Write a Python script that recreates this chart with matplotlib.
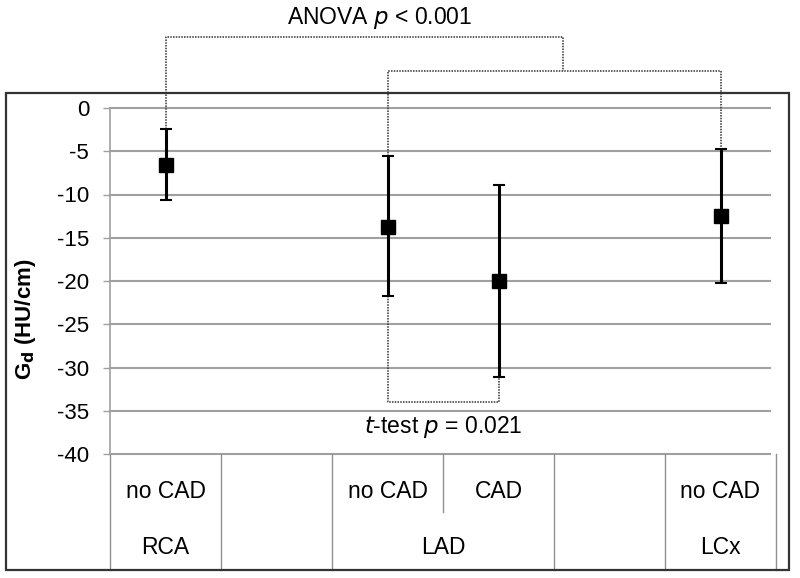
import matplotlib
matplotlib.use("Agg")
import matplotlib.pyplot as plt
from matplotlib.patches import Rectangle

plt.rcParams['font.family'] = ['Liberation Sans', 'DejaVu Sans']

# Data
slots = [0, 2, 3, 5]                 # slot index of each group (6 slots)
sub_labels = ["no CAD", "", "no CAD", "CAD", "", "no CAD"]
vessels = ["RCA", "LAD", "LCx"]
vessel_pos = [0.5, 3.0, 5.5]
means = [-6.6, -13.8, -20.0, -12.5]
err_top = [-2.4, -5.6, -8.9, -4.7]
err_bot = [-10.6, -21.7, -31.1, -20.2]
yticks = [0, -5, -10, -15, -20, -25, -30, -35, -40]

fig = plt.figure(figsize=(8.0, 5.78), dpi=100)
ax = fig.add_axes([110/800, 1-454/578, 666/800, 346/578])
ax.set_xlim(0, 6)
ax.set_ylim(-40, 0)

grid_c = '#a0a0a0'
for yv in yticks:
    ax.plot([0, 5.95], [yv, yv], color=grid_c, lw=1.5, zorder=1, clip_on=False)

for s in ['top', 'right', 'bottom']:
    ax.spines[s].set_visible(False)
ax.spines['left'].set_color(grid_c)
ax.spines['left'].set_linewidth(1.2)
ax.set_xticks([])
ax.set_yticks(yticks)
ax.set_yticklabels([str(v) for v in yticks], fontsize=16)
ax.tick_params(axis='y', length=5, width=1.0, color=grid_c, pad=10)

xs = [s + 0.5 for s in slots]
lower = [m - b for m, b in zip(means, err_bot)]
upper = [t - m for m, t in zip(means, err_top)]
ax.errorbar(xs, means, yerr=[lower, upper], fmt='s', color='black',
            markersize=9.5, elinewidth=2.2, capsize=4, capthick=1.5, zorder=5)

# Table below axis
y_tab_bot = -40 - (570-454)/8.65
y_div = -40 - (512-454)/8.65
tab_c = '#909090'
for i in range(7):
    yb = y_div if i == 3 else y_tab_bot
    ax.plot([i, i], [-40, yb], color=tab_c, lw=1.0, clip_on=False, zorder=2)
for i, lab in enumerate(sub_labels):
    if lab:
        ax.text(i + 0.5, -40 - (492-454)/8.65, lab, ha='center', va='center',
                fontsize=16.5, clip_on=False)
for p, lab in zip(vessel_pos, vessels):
    ax.text(p, -40 - (548-454)/8.65, lab, ha='center', va='center',
            fontsize=16.5, clip_on=False)

# Brackets
br_c = '#333333'
kw = dict(color=br_c, lw=1.1, ls=(0, (1, 0.8)), clip_on=False, zorder=3)
y_t = -34.0
ax.plot([xs[1], xs[1], xs[2], xs[2]], [err_bot[1], y_t, y_t, err_bot[2]], **kw)
ax.text(3.0, -40 + (454-427)/8.65, "$\\it{t}$-test $\\it{p}$ = 0.021",
        ha='center', va='center', fontsize=16.5)

y_inner = (108 - 71)/8.65
y_outer = (108 - 37)/8.65
x_mid = (563 - 110)/111.0
ax.plot([xs[1], xs[1], xs[3], xs[3]], [err_top[1], y_inner, y_inner, err_top[3]], **kw)
ax.plot([xs[0], xs[0], x_mid, x_mid], [err_top[0], y_outer, y_outer, y_inner], **kw)
fig.text(380/800, 1-18/578, "ANOVA $\\it{p}$ < 0.001", ha='center', va='center',
         fontsize=16.5)

ax.set_ylabel("G$_\\mathbf{d}$ (HU/cm)", fontsize=16, fontweight='bold')
ax.yaxis.set_label_coords(-0.108, 0.39)

fig.add_artist(Rectangle((6/800, 1-570/578), 783/800, 477/578,
                         transform=fig.transFigure, fill=False,
                         edgecolor='#333333', lw=1.6))

fig.savefig("out.png", dpi=100)
